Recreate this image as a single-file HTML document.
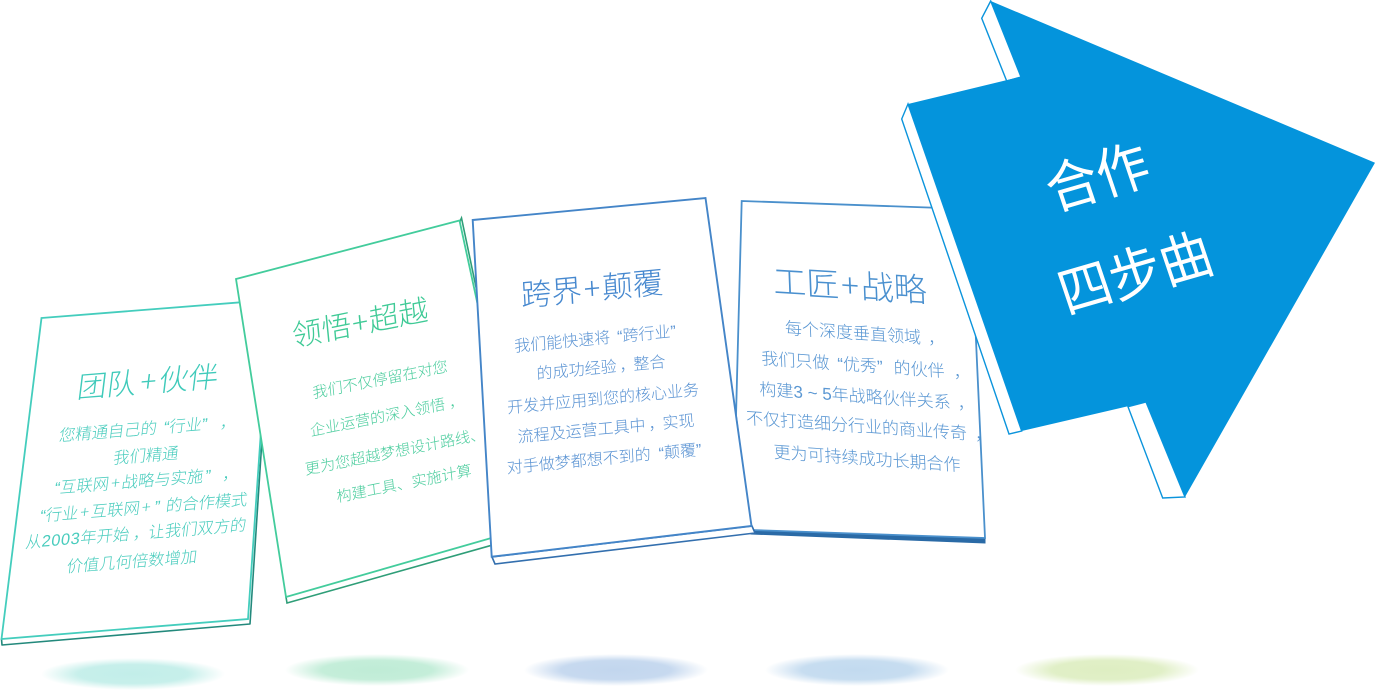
<!DOCTYPE html>
<html lang="zh-CN">
<head>
<meta charset="utf-8">
<title>合作四步曲</title>
<style>
html,body{margin:0;padding:0;background:#fff;width:1375px;height:699px;overflow:hidden}
svg{display:block}
text{font-family:"Liberation Sans","Noto Sans CJK SC",sans-serif;text-anchor:middle;font-weight:300}
.p{font-family:"Noto Sans CJK SC",sans-serif;font-weight:300}
.c1{fill:#48ccbd}.t1{fill:#3fcaba}
.c2{fill:#4ccd9e}.t2{fill:#3fca96}
.c3{fill:#5a93d3}.t3{fill:#4688cf}
.c4{fill:#5a97d3}.t4{fill:#4a90cf}
</style>
</head>
<body>
<svg xmlns="http://www.w3.org/2000/svg" width="1375" height="699" viewBox="0 0 1375 699">
<defs>
<radialGradient id="sh1"><stop offset="0" stop-color="#c2eee9"/><stop offset=".6" stop-color="#c2eee9" stop-opacity=".92"/><stop offset=".82" stop-color="#c2eee9" stop-opacity=".4"/><stop offset="1" stop-color="#c2eee9" stop-opacity="0"/></radialGradient>
<radialGradient id="sh2"><stop offset="0" stop-color="#bfecd6"/><stop offset=".6" stop-color="#bfecd6" stop-opacity=".92"/><stop offset=".82" stop-color="#bfecd6" stop-opacity=".4"/><stop offset="1" stop-color="#bfecd6" stop-opacity="0"/></radialGradient>
<radialGradient id="sh3"><stop offset="0" stop-color="#c2d6ee"/><stop offset=".6" stop-color="#c2d6ee" stop-opacity=".92"/><stop offset=".82" stop-color="#c2d6ee" stop-opacity=".4"/><stop offset="1" stop-color="#c2d6ee" stop-opacity="0"/></radialGradient>
<radialGradient id="sh4"><stop offset="0" stop-color="#c2daef"/><stop offset=".6" stop-color="#c2daef" stop-opacity=".92"/><stop offset=".82" stop-color="#c2daef" stop-opacity=".4"/><stop offset="1" stop-color="#c2daef" stop-opacity="0"/></radialGradient>
<radialGradient id="sh5"><stop offset="0" stop-color="#deeec2"/><stop offset=".6" stop-color="#deeec2" stop-opacity=".92"/><stop offset=".82" stop-color="#deeec2" stop-opacity=".4"/><stop offset="1" stop-color="#deeec2" stop-opacity="0"/></radialGradient>
</defs>
<rect width="1375" height="699" fill="#fff"/>

<g>
<ellipse cx="133" cy="674" rx="92" ry="16" fill="url(#sh1)"/>
<ellipse cx="377" cy="670" rx="92" ry="16" fill="url(#sh2)"/>
<ellipse cx="616" cy="670" rx="92" ry="16" fill="url(#sh3)"/>
<ellipse cx="857" cy="670" rx="92" ry="16" fill="url(#sh4)"/>
<ellipse cx="1107" cy="670" rx="92" ry="16" fill="url(#sh5)"/>
</g>

<g>
<polygon points="271,301 250,624 2,645 1.5,639" fill="#fff" stroke="#23897c" stroke-width="1.6" stroke-linejoin="round"/>
<polygon points="41.5,318 270,300 248,619 1.5,639" fill="#fff" stroke="#44cdbd" stroke-width="1.8" stroke-linejoin="miter"/>
</g>

<g>
<polygon points="461.5,218 528,535 287,603 286,597" fill="#fff" stroke="#2f9e78" stroke-width="1.6"/>
<polygon points="236,279 459.5,220.5 526,528 286,597" fill="#fff" stroke="#43cc9c" stroke-width="1.8"/>
</g>

<g>
<polygon points="751,530 985,538 985,543 751,534" fill="#2a6aa6" stroke="#2a6aa6" stroke-width="1"/>
<polygon points="741.7,201 970,209 985,538 751,530 736,416" fill="#fff" stroke="#4a90cc" stroke-width="1.8"/>
</g>

<g>
<polygon points="492,557 495,564 755,533 752,526" fill="#fff" stroke="#336fae" stroke-width="1.6"/>
<polygon points="472.7,220 705.5,198 751.5,526 491.7,556.7" fill="#fff" stroke="#4485c8" stroke-width="1.9"/>
</g>

<g>
<text class="t1" font-size="29.5" dy=".38em" transform="matrix(1,-.08,-.123,1,148,381)">团队<tspan class="p" dx="4">+</tspan><tspan dx="3">伙伴</tspan></text>
<g class="c1" font-size="16.3">
<text dy=".38em" transform="matrix(1,-.08,-.123,1,148,428)">您精通自己的<tspan dx="7">“</tspan>行业”<tspan dx="13">，</tspan></text>
<text dy=".38em" transform="matrix(1,-.08,-.123,1,146,455)">我们精通</text>
<text dy=".38em" transform="matrix(1,-.08,-.123,1,147,480)">“互联网<tspan class="p" dx="2">+</tspan><tspan dx="2">战略与实施</tspan><tspan dx="2">”</tspan><tspan dx="12">，</tspan></text>
<text dy=".38em" transform="matrix(1,-.08,-.123,1,144,507)">“行业<tspan class="p" dx="2">+</tspan><tspan dx="2">互联网</tspan><tspan class="p" dx="2">+</tspan><tspan dx="4">”</tspan><tspan dx="6">的合作模式</tspan></text>
<text dy=".38em" transform="matrix(1,-.08,-.123,1,136,533)">从<tspan letter-spacing=".6">2003</tspan>年开始<tspan dx="4">，</tspan><tspan dx="-1">让我们双方的</tspan></text>
<text dy=".38em" transform="matrix(1,-.08,-.123,1,132,561)">价值几何倍数增加</text>
</g>
</g>

<g>
<text class="t2" font-size="29.5" dy=".38em" transform="matrix(1,-.2,.1,1,360,322)">领悟<tspan class="p" dx="1">+</tspan><tspan dx="1">超越</tspan></text>
<g class="c2" font-size="15">
<text dy=".38em" transform="matrix(1,-.2,.1,1,380,379)">我们不仅停留在对您</text>
<text dy=".38em" transform="matrix(1,-.2,.1,1,387,415)">企业运营的深入领悟<tspan dx="4">，</tspan></text>
<text dy=".38em" transform="matrix(1,-.2,.1,1,395,451)">更为您超越梦想设计路线、</text>
<text dy=".38em" transform="matrix(1,-.2,.1,1,404,483)">构建工具、实施计算</text>
</g>
</g>

<g>
<text class="t3" font-size="30.5" dy=".38em" transform="matrix(1,-.095,.056,1,592,288)">跨界<tspan class="p" dx="2">+</tspan><tspan dx="2">颠覆</tspan></text>
<g class="c3" font-size="16">
<text dy=".38em" transform="matrix(1,-.095,.056,1,595,338)">我们能快速将<tspan dx="7">“</tspan>跨行业”</text>
<text dy=".38em" transform="matrix(1,-.095,.056,1,601,367)">的成功经验<tspan dx="3">，</tspan><tspan dx="-2">整合</tspan></text>
<text dy=".38em" transform="matrix(1,-.095,.056,1,603,398)">开发并应用到您的核心业务</text>
<text dy=".38em" transform="matrix(1,-.095,.056,1,606,428)">流程及运营工具中<tspan dx="3">，</tspan><tspan dx="-2">实现</tspan></text>
<text dy=".38em" transform="matrix(1,-.095,.056,1,604,458)">对手做梦都想不到的<tspan dx="8">“</tspan>颠覆”</text>
</g>
</g>

<g>
<text class="t4" font-size="33" dy=".38em" transform="matrix(1,.06,.04,1,850,285)">工匠<tspan class="p" dx="2">+</tspan><tspan dx="2">战略</tspan></text>
<g class="c4" font-size="17">
<text dy=".38em" transform="matrix(1,.07,.04,1,865,333)">每个深度垂直领域<tspan dx="7">，</tspan></text>
<text dy=".38em" transform="matrix(1,.07,.04,1,866,365)">我们只做<tspan dx="8">“</tspan>优秀”<tspan dx="11">的伙伴</tspan><tspan dx="9">，</tspan></text>
<text dy=".38em" transform="matrix(1,.07,.04,1,867,396)">构建3 ~ 5年战略伙伴关系<tspan dx="7">，</tspan></text>
<text dy=".38em" transform="matrix(1,.07,.04,1,869,426)">不仅打造细分行业的商业传奇<tspan dx="8">，</tspan></text>
<text dy=".38em" transform="matrix(1,.07,.04,1,867,458)">更为可持续成功长期合作</text>
</g>
</g>

<g>
<polygon points="990.7,1 981.7,18.3 1006.7,81 1021,77" fill="#fff" stroke="#0b94dc" stroke-width="1.4"/>
<polygon points="908,104 901.7,119 1009,434 1021.7,431" fill="#fff" stroke="#0b94dc" stroke-width="1.4"/>
<polygon points="1128,406.7 1162.7,498 1185,497 1146,402" fill="#fff" stroke="#0b94dc" stroke-width="1.4"/>
<polygon points="990.7,1 1375,162.7 1185,497 1146,402 1021.7,431 908,104 1020.7,76.7" fill="#0494dc"/>
<text fill="#fff" style="font-weight:400" font-size="54" dy=".38em" transform="matrix(.93,-.27,.33,.98,1097,176)">合作</text>
<text fill="#fff" style="font-weight:400" font-size="54" dy=".38em" transform="matrix(.93,-.27,.33,.98,1135,272)">四步曲</text>
</g>
</svg>
</body>
</html>
